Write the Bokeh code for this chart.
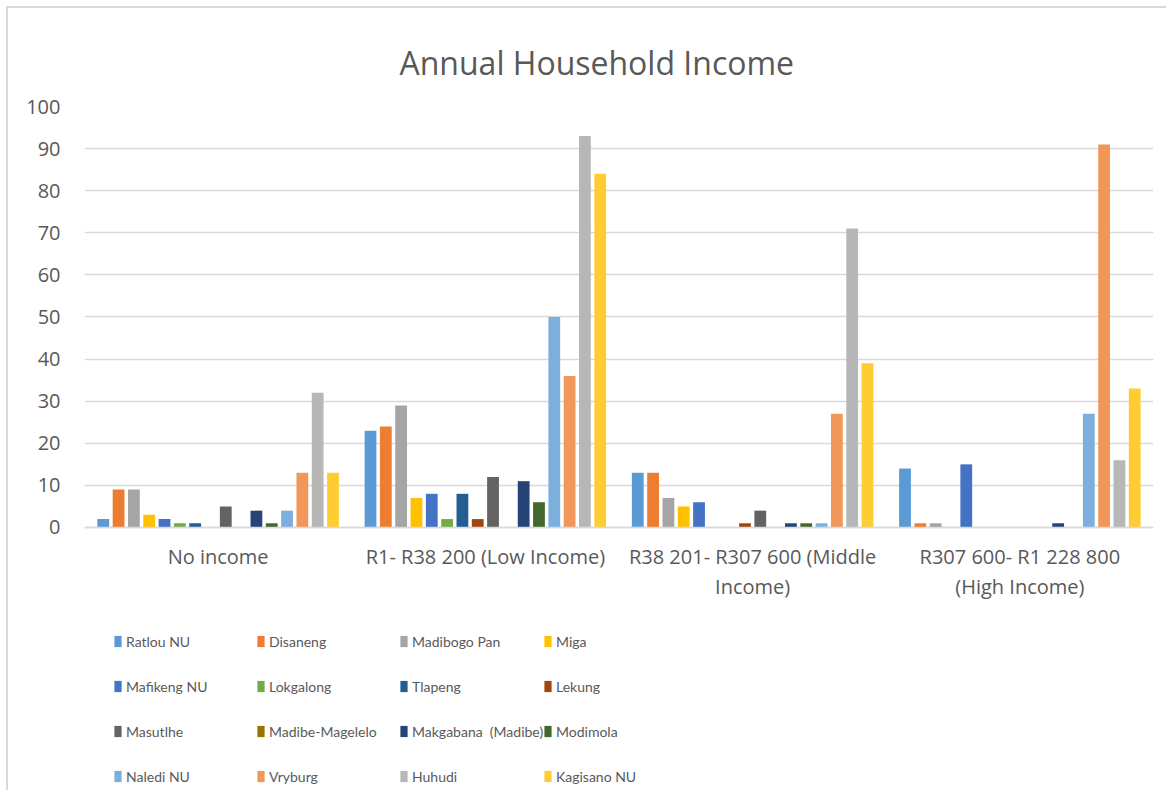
from bokeh.plotting import figure
from bokeh.models import (FactorRange, Range1d, FixedTicker, Legend, LegendItem, Title,
                          ColumnDataSource)
from bokeh.transform import dodge
from bokeh.embed import file_html
from bokeh.resources import INLINE

# ---------------- data ----------------
categories = ["No income", "R1- R38 200 (Low Income)",
              "R38 201- R307 600 (Middle\nIncome)", "R307 600- R1 228 800\n(High Income)"]
series_names = ["Ratlou NU", "Disaneng", "Madibogo Pan", "Miga",
                "Mafikeng NU", "Lokgalong", "Tlapeng", "Lekung",
                "Masutlhe", "Madibe-Magelelo", "Makgabana  (Madibe)", "Modimola",
                "Naledi NU", "Vryburg", "Huhudi", "Kagisano NU"]
ratlou_nu = [2, 23, 13, 14]
disaneng = [9, 24, 13, 1]
madibogo_pan = [9, 29, 7, 1]
miga = [3, 7, 5, 0]
mafikeng_nu = [2, 8, 6, 15]
lokgalong = [1, 2, 0, 0]
tlapeng = [1, 8, 0, 0]
lekung = [0, 2, 1, 0]
masutlhe = [5, 12, 4, 0]
madibe_magelelo = [0, 0, 0, 0]
makgabana = [4, 11, 1, 1]
modimola = [1, 6, 1, 0]
naledi_nu = [4, 50, 1, 27]
vryburg = [13, 36, 27, 91]
huhudi = [32, 93, 71, 16]
kagisano_nu = [13, 84, 39, 33]
y_ticks = [0, 10, 20, 30, 40, 50, 60, 70, 80, 90, 100]

series_values = [ratlou_nu, disaneng, madibogo_pan, miga, mafikeng_nu, lokgalong,
                 tlapeng, lekung, masutlhe, madibe_magelelo, makgabana, modimola,
                 naledi_nu, vryburg, huhudi, kagisano_nu]
colors = ["#5B9BD5", "#ED7D31", "#A5A5A5", "#FFC000", "#4472C4", "#70AD47",
          "#255E91", "#9E480E", "#636363", "#997300", "#264478", "#43682B",
          "#7CAFDD", "#F1975A", "#B7B7B7", "#FFCD33"]

# ---------------- figure ----------------
TXT = "#595959"
FONT = "Open Sans"

# frame extends below zero so that the legend (inside the frame) is not clipped;
# the category axis is pinned at y = 0
p = figure(width=1160, height=784, output_backend="svg", toolbar_location=None,
           x_range=FactorRange(*categories, range_padding=0, factor_padding=0),
           y_range=Range1d(-62, 100),
           min_border_left=76, min_border_right=15, min_border_top=98,
           min_border_bottom=4)
p.styles = {"margin-left": "6px", "margin-top": "6px",
            "border-left": "2px solid #d9d9d9", "border-top": "2px solid #d9d9d9"}
p.outline_line_color = None
p.background_fill_color = "white"
p.border_fill_color = "white"

src = ColumnDataSource(dict(cat=categories,
                            **{f"s{k}": v for k, v in enumerate(series_values)}))

pitch = 1 / 17.45
bar_w = pitch * 0.77
renderers = []
for k, (name, col) in enumerate(zip(series_names, colors)):
    r = p.vbar(x=dodge("cat", (k - 7.5) * pitch, range=p.x_range), top=f"s{k}",
               width=bar_w, source=src, fill_color=col, line_color=None)
    renderers.append(r)

# axes
p.yaxis.ticker = FixedTicker(ticks=y_ticks)
p.yaxis.axis_line_color = None
p.yaxis.major_tick_line_color = None
p.yaxis.minor_tick_line_color = None
p.yaxis.major_tick_in = 0
p.yaxis.major_tick_out = 0
p.yaxis.major_label_standoff = 24
p.yaxis.major_label_text_font = FONT
p.yaxis.major_label_text_font_size = "20px"
p.yaxis.major_label_text_color = TXT

p.xaxis.fixed_location = 0
p.xaxis.axis_line_color = "#d9d9d9"
p.xaxis.axis_line_width = 1.5
p.xaxis.major_tick_line_color = None
p.xaxis.major_tick_in = 0
p.xaxis.major_tick_out = 0
p.xaxis.major_label_standoff = 16
p.xaxis.major_label_text_font = FONT
p.xaxis.major_label_text_font_size = "20px"
p.xaxis.major_label_text_color = TXT
p.xaxis.major_label_text_line_height = 1.1
p.xaxis.major_label_orientation = "horizontal"

p.xgrid.grid_line_color = None
p.ygrid.ticker = FixedTicker(ticks=y_ticks)
p.ygrid.grid_line_color = "#d9d9d9"
p.ygrid.grid_line_width = 1.5

# title
p.title = Title(text="Annual Household Income", align="left", offset=315,
                text_font=FONT, text_font_size="32px", text_font_style="normal",
                text_color=TXT, standoff=46)

# legends: 4 columns, row-major order as in the reference
col_x = [29, 172, 315, 459]
for c in range(4):
    items = [LegendItem(label=series_names[r * 4 + c], renderers=[renderers[r * 4 + c]])
             for r in range(4)]
    leg = Legend(items=items, location=(col_x[c], 3), orientation="vertical",
                 border_line_color=None, background_fill_alpha=0,
                 padding=0, margin=0, spacing=27,
                 glyph_width=9, glyph_height=14, label_height=18,
                 label_standoff=4,
                 label_text_font="Lato", label_text_font_size="14px",
                 label_text_color=TXT)
    p.add_layout(leg, "center")

open("out.html", "w").write(file_html(p, INLINE))
